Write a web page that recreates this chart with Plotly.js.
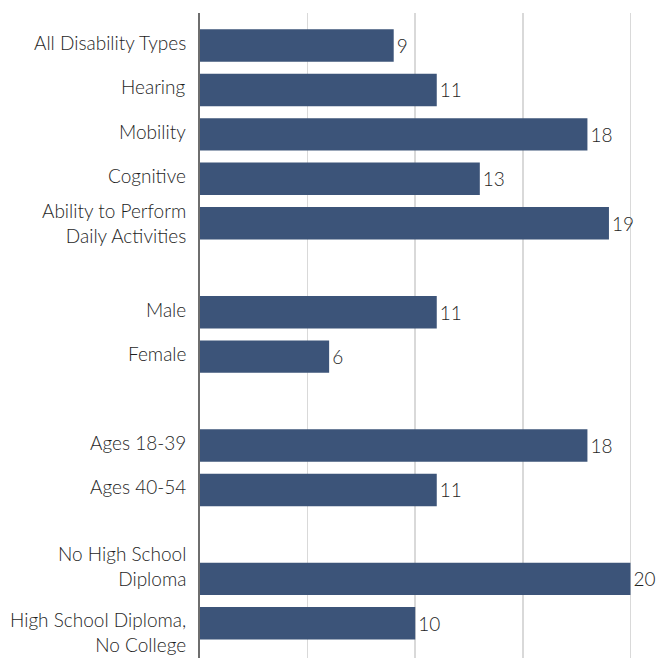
<!DOCTYPE html>
<html>
<head>
<meta charset="utf-8">
<script src="https://cdn.plot.ly/plotly-3.0.1.min.js"></script>
<style>
  html, body { margin: 0; padding: 0; background: #ffffff; }
  #chart { width: 656px; height: 658px; }
</style>
</head>
<body>
<div id="chart"></div>
<script>
// Group labels, top to bottom; empty strings are spacer rows between groups
const categories = [
  "All Disability Types",
  "Hearing",
  "Mobility",
  "Cognitive",
  "Ability to Perform<br>Daily Activities",
  "",
  "Male",
  "Female",
  "",
  "Ages 18-39",
  "Ages 40-54",
  "",
  "No High School<br>Diploma",
  "High School Diploma,<br>No College"
];

// Percent values (null on spacer rows)
const values = [9, 11, 18, 13, 19, null, 11, 6, null, 18, 11, null, 20, 10];

// Vertical nudge (px) of each row label relative to its bar
const labelNudge = [-3, -3, -3, -3, 0, 0, -3, -3, 0, -3, -3, 0, -13, 9];

const FONT = "Lato, 'Open Sans', sans-serif";
const TEXT_COLOR = "#1e1e1e";
const rowIndex = categories.map((_, i) => i);
const barRows = rowIndex.filter(i => values[i] !== null);

const trace = {
  type: "bar",
  orientation: "h",
  y: barRows,
  x: barRows.map(i => values[i]),
  text: barRows.map(i => String(values[i])),
  textposition: "outside",
  cliponaxis: false,
  textfont: { family: FONT, size: 19, color: TEXT_COLOR, weight: 300 },
  marker: { color: "#3c5479" },
  width: 0.73,
  hoverinfo: "skip"
};

// Row labels drawn as annotations to the left of the axis line
const rowLabels = rowIndex
  .filter(i => categories[i] !== "")
  .map(i => ({
    xref: "paper",
    yref: "y",
    x: 0,
    y: i,
    xanchor: "right",
    yanchor: "middle",
    xshift: -12,
    yshift: -labelNudge[i],
    align: "right",
    showarrow: false,
    text: categories[i],
    font: { family: FONT, size: 19, color: TEXT_COLOR, weight: 300 }
  }));

const layout = {
  width: 656,
  height: 658,
  margin: { l: 200, r: 4, t: 13, b: 0 },
  paper_bgcolor: "#ffffff",
  plot_bgcolor: "#ffffff",
  showlegend: false,
  font: { family: FONT, size: 19, color: TEXT_COLOR },
  annotations: rowLabels,
  xaxis: {
    range: [0, 21],
    showticklabels: false,
    showgrid: true,
    gridcolor: "#d9d9d9",
    gridwidth: 1.5,
    dtick: 5,
    zeroline: false,
    showline: false,
    fixedrange: true
  },
  yaxis: {
    range: [13.78, -0.73],
    showticklabels: false,
    showgrid: false,
    zeroline: false,
    showline: true,
    linecolor: "#6e6e6e",
    linewidth: 2,
    ticks: "",
    fixedrange: true
  }
};

Plotly.newPlot("chart", [trace], layout, { displayModeBar: false, staticPlot: true });
</script>
</body>
</html>
